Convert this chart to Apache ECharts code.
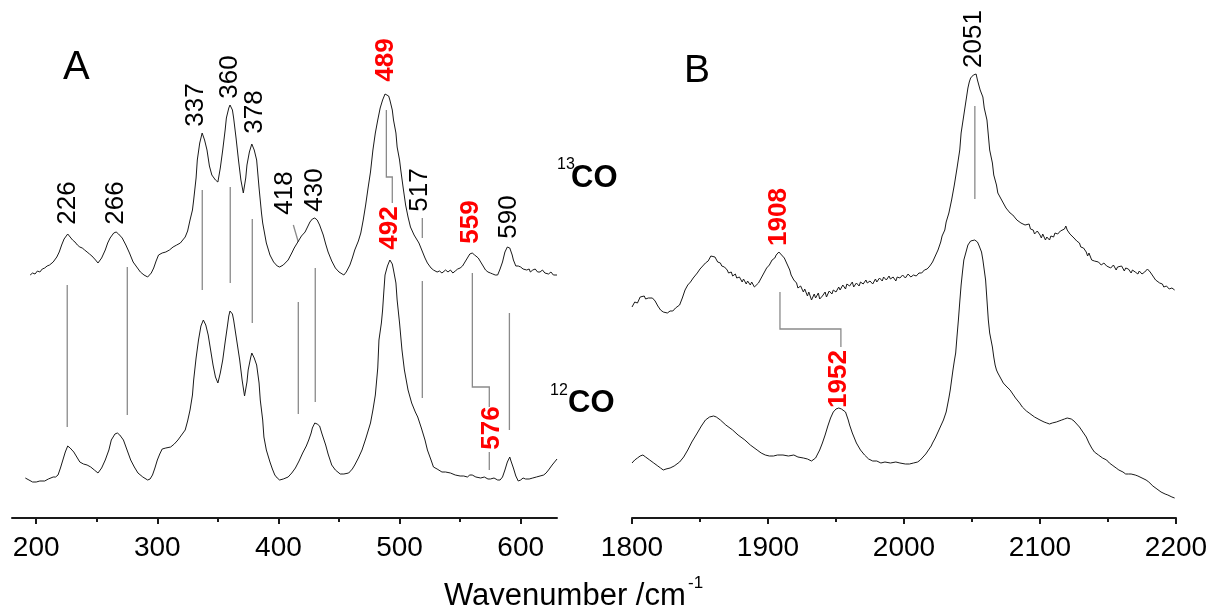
<!DOCTYPE html>
<html>
<head>
<meta charset="utf-8">
<script src="https://cdn.jsdelivr.net/npm/echarts@6/dist/echarts.min.js"></script>
<style>
  html, body { margin: 0; padding: 0; background: #fff; }
  #chart { width: 1214px; height: 611px; }
</style>
</head>
<body>
<div id="chart"></div>
<script>
// Raman spectra of the 13CO and 12CO adducts: low-frequency region (A) and CO stretch region (B).
// Points are [wavenumber / cm-1, intensity (arb. units, offset traces)].

const tickA = [200, 300, 400, 500, 600];
const minorA = [250, 350, 450, 550];
const tickB = [1800, 1900, 2000, 2100, 2200];
const minorB = [1850, 1950, 2050, 2150];

const specA13 = [
  [195,243],[197,245],[199,244],[201,247],[203,246],[205,249],[207,250],[209,252],[211,253],[212,255],
  [214,256],[217,261],[219,266],[221,273],[223,279],[226,284],[228,281],[230,278],[232,276],[234,273],
  [236,271],[238,270],[240,268],[242,266],[244,264],[246,262],[249,258],[251,255],[254,260],[257,268],
  [259,275],[261,280],[264,285],[266,286],[268,284],[271,280],[274,273],[277,265],[280,256],[283,251],
  [286,246],[289,243],[292,241],[295,245],[297,250],[299,257],[301,263],[304,265],[307,266],[310,268],
  [313,271],[316,273],[319,275],[321,278],[323,281],[325,287],[327,298],[329,308],[330,318],[332,340],
  [333,358],[335,375],[337,385],[339,378],[341,368],[343,352],[345,343],[348,338],[350,336],[352,350],
  [354,368],[356,388],[357,400],[359,410],[360,413],[362,408],[363,400],[365,380],[367,358],[369,338],
  [371,325],[373,340],[374,353],[376,366],[378,374],[380,368],[382,358],[384,330],[386,305],[387,295],
  [390,275],[393,263],[396,256],[399,252],[401,251],[404,253],[408,258],[411,265],[413,270],[416,276],
  [419,282],[422,286],[424,291],[426,296],[428,299],[430,300],[432,298],[434,293],[437,283],[439,274],
  [441,266],[444,257],[447,250],[450,246],[454,243],[456,246],[459,253],[461,260],[463,268],[466,277],
  [468,285],[470,298],[472,313],[474,330],[476,346],[478,368],[480,385],[482,398],[484,410],[486,418],
  [488,424],[489,425],[491,422],[492,418],[494,408],[495,398],[497,385],[498,371],[500,358],[501,348],
  [503,330],[505,313],[507,301],[509,291],[512,283],[514,279],[516,275],[519,266],[521,260],[523,255],
  [526,250],[528,248],[531,246],[533,247],[535,245],[538,248],[540,246],[542,248],[544,245],[546,247],
  [548,249],[550,250],[552,252],[554,256],[556,260],[558,264],[560,265],[562,263],[565,260],[567,256],
  [569,252],[571,248],[573,246],[575,245],[577,244],[579,243],[581,243],[583,249],[585,256],[586,261],
  [587,266],[589,271],[590,272],[591,270],[593,263],[594,258],[596,252],[598,252],[600,251],[602,249],
  [603,251],[605,248],[607,249],[608,246],[610,248],[612,249],[614,246],[616,246],[618,248],[620,245],
  [621,247],[623,244],[625,246],[627,243],[628,245],[630,243]
];

const specA12 = [
  [191,40],[194,38],[197,36],[200,36],[203,37],[207,37],[210,39],[214,41],[216,41],[218,43],
  [220,50],[222,58],[224,66],[226,72],[228,70],[231,66],[233,62],[236,56],[239,54],[242,53],
  [245,51],[248,48],[251,45],[254,50],[257,58],[260,68],[262,78],[265,84],[267,85],[269,83],
  [272,78],[275,68],[278,58],[281,51],[284,45],[288,41],[292,38],[294,39],[296,43],[298,50],
  [300,58],[302,64],[304,69],[307,70],[311,71],[314,74],[317,78],[320,83],[323,88],[325,97],
  [327,108],[329,123],[330,138],[332,160],[334,178],[336,192],[338,198],[340,193],[342,183],[344,168],
  [346,153],[348,141],[350,135],[352,145],[354,158],[356,176],[358,193],[359,202],[360,207],[362,204],
  [363,198],[365,182],[368,158],[370,138],[372,122],[374,136],[375,148],[377,160],[378,165],[380,160],
  [382,153],[384,135],[385,118],[387,98],[388,81],[390,68],[393,56],[395,49],[397,43],[399,40],
  [401,38],[404,39],[408,41],[411,45],[414,50],[417,57],[420,65],[423,72],[425,78],[427,85],
  [428,90],[430,95],[432,94],[434,92],[436,84],[439,73],[441,64],[444,53],[447,48],[451,44],
  [454,44],[458,45],[461,49],[463,53],[466,60],[469,68],[472,79],[474,87],[476,95],[478,108],
  [480,123],[482,150],[483,178],[485,195],[486,208],[487,226],[488,243],[490,252],[492,258],[494,254],
  [495,248],[497,235],[498,218],[500,195],[502,168],[504,148],[507,128],[510,115],[513,106],[515,101],
  [518,90],[521,78],[523,68],[526,58],[528,51],[531,49],[535,46],[538,46],[542,45],[546,43],
  [550,42],[553,42],[556,41],[558,43],[560,43],[563,41],[567,40],[570,41],[573,39],[575,39],
  [578,40],[581,38],[583,38],[585,41],[587,48],[589,56],[591,61],[592,57],[594,50],[596,42],
  [598,37],[600,38],[602,40],[604,39],[607,39],[610,40],[613,41],[616,42],[619,43],[621,45],
  [623,48],[626,53],[628,56],[630,59]
];

const specB13 = [
  [1800,211],[1802,216],[1803,218],[1804,215],[1806,221],[1807,219],[1809,222],[1810,219],[1812,220],[1813,218],
  [1815,220],[1817,217],[1819,212],[1821,208],[1823,206],[1824,208],[1826,205],[1828,207],[1829,205],[1830,207],
  [1832,210],[1835,213],[1837,220],[1839,228],[1841,233],[1843,236],[1845,240],[1848,245],[1850,249],[1852,252],
  [1854,255],[1856,257],[1858,262],[1859,260],[1861,261],[1863,256],[1865,255],[1866,252],[1868,251],[1870,248],
  [1871,245],[1873,246],[1874,242],[1876,244],[1877,240],[1879,241],[1881,236],[1882,239],[1884,234],[1885,237],
  [1887,233],[1888,236],[1890,231],[1891,233],[1893,235],[1895,240],[1897,245],[1899,250],[1901,253],[1903,258],
  [1905,260],[1906,263],[1908,266],[1910,263],[1912,260],[1914,254],[1916,248],[1917,243],[1919,238],[1921,235],
  [1922,230],[1924,232],[1926,226],[1927,229],[1929,222],[1930,226],[1932,218],[1934,224],[1935,220],[1937,225],
  [1938,219],[1940,222],[1942,226],[1943,221],[1945,227],[1947,224],[1948,228],[1950,226],[1952,231],[1953,228],
  [1955,233],[1957,229],[1958,234],[1960,232],[1962,236],[1963,231],[1965,235],[1967,232],[1968,236],[1970,234],
  [1972,238],[1973,235],[1975,237],[1977,234],[1979,239],[1980,236],[1982,240],[1984,237],[1985,241],[1987,238],
  [1989,242],[1990,239],[1992,241],[1994,237],[1995,241],[1997,240],[1999,243],[2001,240],[2003,244],[2005,241],
  [2007,243],[2009,242],[2011,245],[2013,245],[2015,248],[2017,249],[2019,252],[2021,256],[2023,262],[2025,268],
  [2027,276],[2028,282],[2030,288],[2031,296],[2033,305],[2035,318],[2037,333],[2039,350],[2041,368],[2042,385],
  [2044,403],[2045,412],[2046,421],[2047,430],[2048,436],[2049,440],[2050,438],[2051,443],[2052,442],[2053,444],
  [2054,438],[2055,433],[2056,428],[2058,421],[2059,410],[2061,398],[2062,383],[2063,368],[2065,355],[2066,343],
  [2068,333],[2069,325],[2071,320],[2073,315],[2075,310],[2076,312],[2078,305],[2080,303],[2081,301],[2083,298],
  [2084,300],[2086,295],[2087,297],[2089,293],[2090,291],[2092,294],[2093,289],[2095,288],[2096,284],[2098,287],
  [2100,283],[2101,280],[2102,284],[2104,278],[2105,281],[2107,278],[2108,282],[2110,281],[2111,285],[2113,284],
  [2115,287],[2116,286],[2118,289],[2119,292],[2120,288],[2122,284],[2123,282],[2125,280],[2127,277],[2129,275],
  [2130,271],[2132,270],[2134,266],[2135,262],[2136,265],[2138,258],[2140,257],[2141,255],[2143,256],[2145,253],
  [2147,255],[2149,252],[2150,254],[2152,250],[2154,253],[2156,248],[2157,251],[2158,249],[2160,252],[2162,247],
  [2163,250],[2165,249],[2167,245],[2168,248],[2170,246],[2172,244],[2173,247],[2175,244],[2177,246],[2179,249],
  [2180,251],[2181,246],[2183,242],[2185,238],[2186,240],[2188,235],[2190,234],[2191,231],[2193,232],[2195,229],
  [2197,230],[2199,228]
];

const specB12 = [
  [1800,55],[1802,58],[1804,60],[1806,62],[1808,63],[1810,61],[1813,58],[1816,55],[1819,52],[1821,50],
  [1823,48],[1825,49],[1828,50],[1831,52],[1835,56],[1838,61],[1841,68],[1844,76],[1848,85],[1851,92],
  [1854,98],[1857,101],[1860,102],[1862,101],[1865,98],[1869,93],[1874,88],[1878,83],[1883,78],[1887,73],
  [1892,68],[1895,65],[1898,63],[1901,62],[1904,62],[1907,63],[1911,63],[1915,62],[1919,63],[1922,61],
  [1926,60],[1929,59],[1932,57],[1935,60],[1938,68],[1940,75],[1942,83],[1944,92],[1946,100],[1948,106],
  [1950,109],[1952,110],[1954,109],[1957,106],[1959,98],[1960,93],[1962,85],[1965,75],[1968,68],[1971,63],
  [1974,59],[1977,57],[1980,57],[1983,55],[1986,56],[1990,55],[1994,56],[1997,55],[2001,54],[2004,54],
  [2007,55],[2010,56],[2012,58],[2014,61],[2016,64],[2018,68],[2020,72],[2021,75],[2023,80],[2025,86],
  [2027,92],[2029,98],[2031,106],[2032,113],[2033,120],[2034,128],[2035,138],[2036,148],[2037,157],[2038,165],
  [2039,182],[2040,198],[2041,216],[2042,233],[2043,246],[2044,258],[2046,268],[2047,273],[2049,277],[2050,278],
  [2052,278],[2054,276],[2055,273],[2057,266],[2058,258],[2059,248],[2060,238],[2061,218],[2062,198],[2063,185],
  [2065,171],[2066,161],[2067,153],[2068,148],[2069,145],[2071,140],[2073,135],[2075,132],[2078,128],[2080,124],
  [2082,120],[2085,115],[2087,111],[2090,107],[2092,105],[2096,101],[2100,98],[2103,96],[2105,95],[2107,94],
  [2109,95],[2112,96],[2114,97],[2116,98],[2118,99],[2120,100],[2121,100],[2123,99],[2125,97],[2127,94],
  [2129,91],[2131,87],[2134,81],[2136,75],[2138,70],[2140,66],[2143,63],[2146,60],[2149,58],[2151,55],
  [2153,53],[2156,50],[2158,48],[2161,46],[2163,44],[2165,44],[2167,44],[2170,43],[2172,42],[2175,40],
  [2178,38],[2180,36],[2183,32],[2186,29],[2189,26],[2192,24],[2194,23],[2197,21],[2199,20]
];

// Guide lines (polylines) linking corresponding bands of the two traces
const guidesA = [
  [[225.6,233],[225.6,91]],
  [[275.2,251],[275.2,103]],
  [[337.1,328],[337.1,228]],
  [[360.2,331],[360.2,235]],
  [[378.4,299],[378.4,195]],
  [[412.3,293],[416.4,276]],
  [[416.4,216],[416.4,104]],
  [[430.4,250],[430.4,116]],
  [[518.8,300],[518.8,280]],
  [[518.8,237],[518.8,120]],
  [[489.1,408],[489.1,341],[494.0,341],[494.0,315]],
  [[560.1,245],[560.1,131],[574.1,131],[574.1,111]],
  [[574.1,66],[574.1,48]],
  [[590.7,205],[590.7,88]]
];
const guidesB = [
  [[1908.8,226],[1908.8,189],[1953.6,189],[1953.6,171]],
  [[2052.1,412],[2052.1,319]]
];

// Band labels: [wavenumber, label height]
const bandsA = [
  [226,315],[266,315],[337,413],[360,441],[378,406],[418,325],[430,328],
  [489,458],[517,328],[492,290],[559,296],[590,301],[576,90]
];
const bandsB = [[1908,301],[2051,479],[1952,139]];
// Bands that shift on isotopic substitution
const shifted = [489, 492, 559, 576, 1908, 1952];

const FONT = "'Liberation Sans', Arial, Helvetica, sans-serif";
const INK = '#000';
const LINE = '#1a1a1a';
const GUIDE = '#8a8a8a';
const RED = '#ff0000';

// sideways nudges (px) for labels set beside their guide line
const labelNudge = { 337: -6, 378: 3, 418: -15 };

function bandSeries(bands, xi, yi) {
  return {
    type: 'scatter', xAxisIndex: xi, yAxisIndex: yi,
    symbolSize: 1, itemStyle: { color: 'transparent', opacity: 1 }, silent: true, z: 5,
    data: bands.map(([wn, h]) => {
      const red = shifted.includes(wn);
      return {
        value: [wn, h],
        label: {
          show: true, position: 'inside', rotate: 90, opacity: 1,
          formatter: String(wn),
          fontFamily: FONT, fontSize: 26,
          fontWeight: red ? 'bold' : 'normal',
          color: red ? RED : INK,
          // label frame is rotated: its local y runs along the screen x direction
          offset: [0, labelNudge[wn] || 0]
        }
      };
    })
  };
}

function guideSeries(guides, xi, yi) {
  return {
    type: 'lines', coordinateSystem: 'cartesian2d', xAxisIndex: xi, yAxisIndex: yi,
    polyline: true, silent: true, z: 3,
    lineStyle: { color: GUIDE, width: 1.3, opacity: 1 },
    data: guides.map(c => ({ coords: c }))
  };
}

function spectrum(data, xi, yi) {
  return {
    type: 'line', xAxisIndex: xi, yAxisIndex: yi, data: data,
    symbol: 'none', silent: true, z: 4,
    lineStyle: { color: LINE, width: 1 }
  };
}

function majorAxis(grid, min, max, ticks) {
  return {
    type: 'value', gridIndex: grid, min: min, max: max, position: 'bottom',
    axisLine: { show: true, onZero: false, lineStyle: { color: LINE, width: 2 } },
    axisTick: { show: true, customValues: ticks, length: 6, lineStyle: { color: LINE, width: 2 } },
    axisLabel: { show: true, customValues: ticks, margin: 16, fontFamily: FONT, fontSize: 28, color: '#000',
                 formatter: v => String(v), showMinLabel: true, showMaxLabel: true },
    splitLine: { show: false }
  };
}
function minorAxis(grid, min, max, ticks) {
  return {
    type: 'value', gridIndex: grid, min: min, max: max, position: 'bottom', offset: 0,
    axisLine: { show: false, onZero: false },
    axisTick: { show: true, customValues: ticks, length: 4, lineStyle: { color: LINE, width: 2 } },
    axisLabel: { show: false },
    splitLine: { show: false }
  };
}

const chart = echarts.init(document.getElementById('chart'), null, { renderer: 'canvas' });
chart.setOption({
  backgroundColor: '#fff',
  animation: false,
  grid: [
    { left: 12, right: 657, top: 0, bottom: 93 },
    { left: 632, right: 38, top: 0, bottom: 93 }
  ],
  xAxis: [
    majorAxis(0, 180, 630, tickA),
    minorAxis(0, 180, 630, minorA),
    majorAxis(1, 1800, 2200, tickB),
    minorAxis(1, 1800, 2200, minorB)
  ],
  yAxis: [
    { type: 'value', gridIndex: 0, min: 0, max: 518, show: false },
    { type: 'value', gridIndex: 1, min: 0, max: 518, show: false }
  ],
  series: [
    spectrum(specA13, 0, 0),
    spectrum(specA12, 0, 0),
    spectrum(specB13, 2, 1),
    spectrum(specB12, 2, 1),
    guideSeries(guidesA, 0, 0),
    guideSeries(guidesB, 2, 1),
    bandSeries(bandsA, 0, 0),
    bandSeries(bandsB, 2, 1)
  ],
  graphic: [
    { type: 'text', left: 63, top: 48, style: { text: 'A', font: '40px ' + FONT, fill: '#000' } },
    { type: 'text', left: 684, top: 52, style: { text: 'B', font: '39px ' + FONT, fill: '#000' } },
    { type: 'text', left: 557, top: 157, style: { text: '13', font: '16px ' + FONT, fill: '#000' } },
    { type: 'text', left: 571, top: 163, style: { text: 'CO', font: 'bold 31px ' + FONT, fill: '#000' } },
    { type: 'text', left: 550, top: 383, style: { text: '12', font: '16px ' + FONT, fill: '#000' } },
    { type: 'text', left: 568, top: 388, style: { text: 'CO', font: 'bold 31px ' + FONT, fill: '#000' } },
    { type: 'text', left: 444, top: 581, style: { text: 'Wavenumber /cm', font: '31px ' + FONT, fill: '#000' } },
    { type: 'text', left: 688, top: 575, style: { text: '-1', font: '17px ' + FONT, fill: '#000' } }
  ]
});
</script>
</body>
</html>
